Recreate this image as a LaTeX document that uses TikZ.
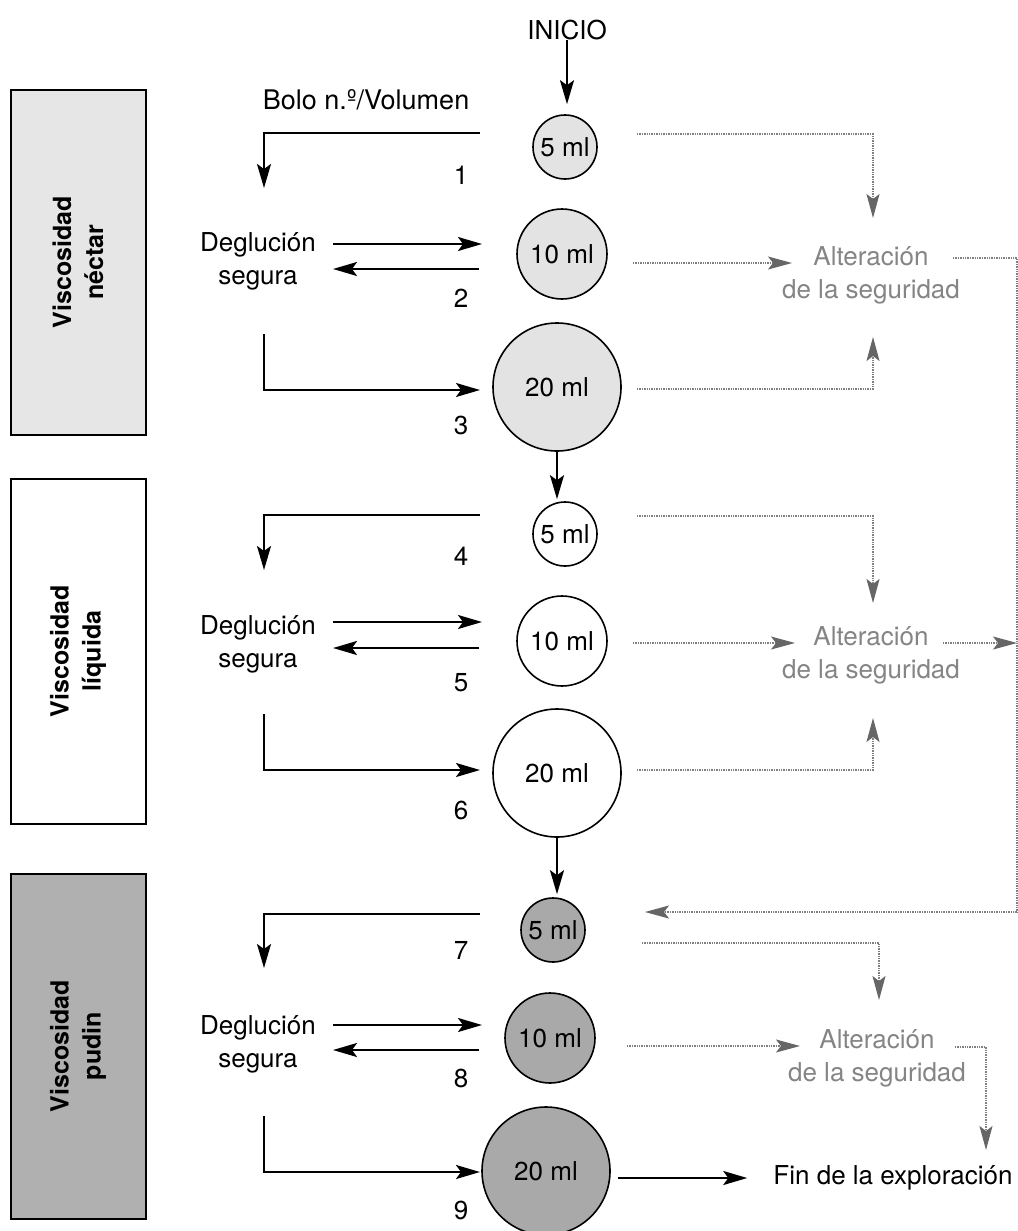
\documentclass[tikz,border=0pt]{standalone}
\usepackage{fontspec}
\setmainfont{TeX Gyre Heros}
\usetikzlibrary{arrows.meta,shapes.geometric}
\definecolor{circA}{HTML}{E3E3E3}
\definecolor{boxA}{HTML}{E6E6E6}
\definecolor{circC}{HTML}{A9A9A9}
\definecolor{boxC}{HTML}{B0B0B0}
\definecolor{graytext}{HTML}{858585}
\definecolor{dotgray}{HTML}{808080}
\definecolor{arrgray}{HTML}{666666}
\begin{document}
\begin{tikzpicture}[x=1pt,y=-1pt,
  txt/.style={font=\fontsize{26}{33}\selectfont, inner sep=0pt, align=center},
  gtxt/.style={txt, text=graytext},
  bolo/.style={draw=black, line width=1.6pt, circle, inner sep=0pt},
  sm/.style={bolo, minimum size=64pt},
  md/.style={bolo, minimum size=90pt},
  lg/.style={bolo, minimum size=128pt},
  flow/.style={line width=2.2pt, -{Stealth[length=24pt,width=14pt,inset=5pt]}},
  dot/.style={draw=dotgray, line width=1.4pt, densely dotted},
  dotarr/.style={dot, -{Stealth[length=24pt,width=13pt,inset=5pt,color=arrgray,fill=arrgray]}},
  vbox/.style={draw=black, line width=2pt, minimum width=135pt, minimum height=345pt, inner sep=0pt},
  vtxt/.style={rotate=90, font=\fontsize{25}{32}\selectfont\bfseries, align=center, inner sep=0pt}
]
\useasboundingbox (0,0) rectangle (1017,1231);
\fill[white] (0,0) rectangle (1017,1231);

% side boxes
\node[vbox, fill=boxA] (bA) at (78,262) {};
\node[vtxt] at (bA) {Viscosidad\\néctar};
\node[vbox, fill=white] (bB) at (78,651) {};
\node[vtxt] at (bB) {Viscosidad\\líquida};
\node[vbox, fill=boxC] (bC) at (78,1046) {};
\node[vtxt] at (bC) {Viscosidad\\pudin};

% header
\node[txt] (ini) at (567,30) {INICIO};
\node[txt, font=\fontsize{27}{33}\selectfont] (bolo) at (366,100) {Bolo n.º/Volumen};

% bolus nodes
\node[sm, fill=circA, label={[txt]center:5 ml}] (n1) at (565,147) {};
\node[md, fill=circA, label={[txt]center:10 ml}] (n2) at (562,254) {};
\node[lg, fill=circA, label={[txt]center:20 ml}] (n3) at (557,387) {};
\node[sm, fill=white, label={[txt]center:5 ml}] (n4) at (565,534) {};
\node[md, fill=white, label={[txt]center:10 ml}] (n5) at (562,641) {};
\node[lg, fill=white, label={[txt]center:20 ml}] (n6) at (557,773) {};
\node[sm, fill=circC, label={[txt]center:5 ml}] (n7) at (553,930) {};
\node[md, fill=circC, label={[txt]center:10 ml}] (n8) at (550,1038) {};
\node[lg, fill=circC, label={[txt]center:20 ml}] (n9) at (546,1171) {};

% deglucion nodes
\node[txt] (d1) at (258,261) {Deglución\\segura};
\node[txt] (d2) at (258,644) {Deglución\\segura};
\node[txt] (d3) at (258,1044) {Deglución\\segura};

% numbers
\node[txt] (k1) at (461,175) {1};
\node[txt] (k2) at (461,298) {2};
\node[txt] (k3) at (461,425) {3};
\node[txt] (k4) at (461,556) {4};
\node[txt] (k5) at (461,683) {5};
\node[txt] (k6) at (461,810) {6};
\node[txt] (k7) at (461,950) {7};
\node[txt] (k8) at (461,1078) {8};
\node[txt] (k9) at (461,1210) {9};

% alteracion nodes
\node[gtxt] (a1) at (871,275) {Alteración\\de la seguridad};
\node[gtxt] (a2) at (871,655) {Alteración\\de la seguridad};
\node[gtxt] (a3) at (877,1058) {Alteración\\de la seguridad};
\node[txt] (fin) at (893,1178) {Fin de la exploración};

% main vertical flow
\draw[flow, shorten >=10pt] (ini.south) -- (ini.south |- n1.north);
\draw[flow, shorten >=2pt] (n3.south) -- (n3.south |- n4.north);
\draw[flow, shorten >=3pt] (n6.south) -- (n6.south |- n7.north);

% row connectors (solid)
\foreach \r/\ya/\yb/\yc/\yd/\ye/\yf in {1/133/188/244/269/334/390, 2/515/570/622/648/714/770, 3/914/968/1025/1050/1116/1172}{
  \coordinate (s\r a) at (480,\ya);
  \coordinate (s\r b) at (264,\yb);
  \coordinate (s\r c) at (333,\yc);
  \coordinate (s\r d) at (482,\yc);
  \coordinate (s\r e) at (479,\yd);
  \coordinate (s\r f) at (333,\yd);
  \coordinate (s\r g) at (264,\ye);
  \coordinate (s\r h) at (480,\yf);
  \draw[flow] (s\r a) -| (s\r b);
  \draw[flow] (s\r c) -- (s\r d);
  \draw[flow] (s\r e) -- (s\r f);
  \draw[flow] (s\r g) |- (s\r h);
}

% dotted connectors, block 1
\coordinate (t1a) at (637,134);
\coordinate (t1b) at (873,218);
\coordinate (t1c) at (633,263);
\coordinate (t1d) at (792,263);
\coordinate (t1e) at (637,389);
\coordinate (t1f) at (873,337);
\draw[dotarr] (t1a) -| (t1b);
\draw[dotarr] (t1c) -- (t1d);
\draw[dotarr] (t1e) -| (t1f);
% dotted connectors, block 2
\coordinate (t2a) at (637,516);
\coordinate (t2b) at (873,603);
\coordinate (t2c) at (633,643);
\coordinate (t2d) at (795,643);
\coordinate (t2e) at (637,770);
\coordinate (t2f) at (873,718);
\coordinate (t2g) at (943,643);
\coordinate (t2h) at (1017,643);
\draw[dotarr] (t2a) -| (t2b);
\draw[dotarr] (t2c) -- (t2d);
\draw[dotarr] (t2e) -| (t2f);
\draw[dotarr] (t2g) -- (t2h);
% loop back from block 1 to pudin 5 ml
\coordinate (t1g) at (953,258);
\coordinate (t1h) at (1016.8,912);
\coordinate (t3i) at (645,912);
\draw[dot] (t1g) -| (t1h);
\draw[dotarr] (t1h) -- (t3i);
% dotted connectors, block 3
\coordinate (t3a) at (642,943);
\coordinate (t3b) at (879,1000);
\coordinate (t3c) at (627,1046);
\coordinate (t3d) at (800,1046);
\coordinate (t3e) at (955,1047);
\coordinate (t3f) at (986,1150);
\draw[dotarr] (t3a) -| (t3b);
\draw[dotarr] (t3c) -- (t3d);
\draw[dotarr] (t3e) -| (t3f);

% end
\coordinate (e9) at (618,1178);
\draw[flow, shorten >=26pt] (e9) -- (e9 -| fin.west);
\end{tikzpicture}
\end{document}
